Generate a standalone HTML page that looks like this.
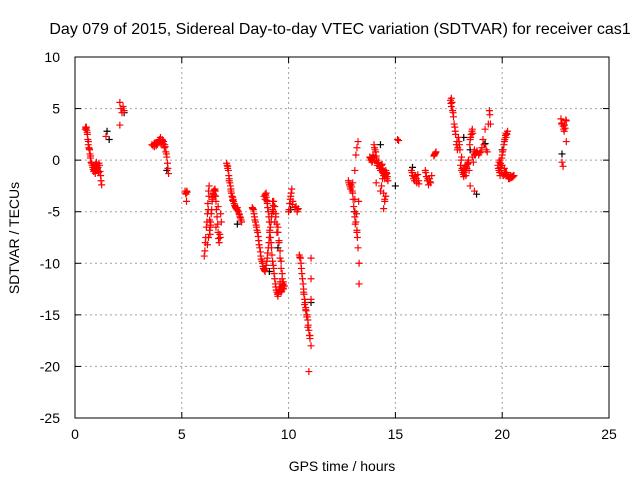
<!DOCTYPE html>
<html><head><meta charset="utf-8"><style>
html,body{margin:0;padding:0;background:#fff;}
svg{display:block;font-family:"Liberation Sans",sans-serif;}
</style></head><body>
<svg id="chart" width="640" height="480">
<text x="340" y="34" font-size="16" text-anchor="middle" fill="#000">Day 079 of 2015, Sidereal Day-to-day VTEC variation (SDTVAR) for receiver cas1</text>
<g id="grid"></g>
<g id="ticks"></g>
<g id="blackpts"></g>
<g id="redpts"></g>
<rect x="75" y="57" width="534" height="361" fill="none" stroke="#000" stroke-width="1"/>
<text x="342" y="471" font-size="14" text-anchor="middle">GPS time / hours</text>
<text transform="translate(19,238) rotate(-90)" font-size="14" text-anchor="middle">SDTVAR / TECUs</text>
</svg>
<script>
const xTicks=[0,5,10,15,20,25];
const yTicks=[10,5,0,-5,-10,-15,-20,-25];
const redHours=[0.5,0.52,0.55,0.58,0.6,0.62,0.65,0.68,0.7,0.72,0.75,0.8,0.85,0.9,0.95,1.0,1.05,1.1,1.15,1.2,1.22,1.25,
2.1,2.15,2.2,2.25,2.3,2.1,1.45,
3.6,3.7,3.8,3.9,4.0,4.05,4.1,4.2,4.25,4.3,4.33,4.35,4.38,
5.15,5.2,5.25,5.22,
6.05,6.1,6.15,6.2,6.22,6.25,6.28,6.3,6.32,6.35,6.4,6.45,6.5,6.55,6.6,6.65,6.7,6.75,6.8,6.85,6.7,6.6,
7.1,7.15,7.2,7.25,7.3,7.35,7.4,7.45,7.5,7.55,7.6,7.65,7.7,7.75,7.8,
8.3,8.35,8.4,8.45,8.5,8.55,8.6,8.65,8.7,8.75,8.8,8.85,8.9,8.95,9.0,9.05,9.1,9.15,9.2,9.25,9.3,
8.9,8.95,9.0,9.05,9.1,9.15,9.2,9.25,9.3,9.35,9.4,9.45,9.5,9.55,9.6,9.65,9.7,9.75,
9.25,9.3,9.35,9.4,9.45,9.5,9.55,9.6,9.65,9.7,9.75,
10.0,10.05,10.1,10.15,10.2,10.3,10.4,10.45,
10.5,10.55,10.6,10.65,10.7,10.75,10.8,10.85,10.9,10.95,11.0,11.05,11.05,11.05,11.05,11.0,10.95,
12.8,12.85,12.9,12.95,13.0,13.05,13.1,13.1,13.15,13.15,13.2,13.2,13.25,13.25,13.3,13.3,13.2,13.1,13.0,
13.8,13.85,13.9,13.95,14.0,14.05,14.1,14.15,14.2,14.25,14.3,14.35,14.4,14.45,14.5,14.55,14.6,14.65,14.3,14.45,14.5,14.55,14.1,
15.1,15.15,
15.75,15.8,15.85,15.9,15.95,16.0,16.05,16.1,16.4,16.45,16.5,16.55,16.6,16.65,16.7,16.8,16.85,16.9,
17.6,17.62,17.65,17.7,17.75,17.8,17.85,17.9,17.95,18.0,18.05,18.1,18.15,18.2,18.25,18.3,18.35,18.4,18.45,18.5,18.55,18.6,18.65,18.7,18.75,18.8,18.9,19.0,19.1,19.2,19.25,19.3,19.35,19.4,19.42,19.45,18.3,18.5,18.7,
19.8,19.85,19.9,19.95,20.0,20.05,20.1,20.15,20.2,20.25,19.9,20.0,20.1,20.2,20.3,20.35,20.4,20.45,20.5,20.55,20.1,20.15,
22.75,22.8,22.85,22.9,22.95,23.0,23.0,22.8,22.85,
0.48,0.53,0.57,0.63,0.67,0.73,0.78,0.83,0.88,0.92,0.97,1.02,1.07,1.12,1.17,0.95,1.0,1.08,
3.65,3.75,3.85,3.95,4.02,4.08,4.15,4.22,4.28,3.72,3.82,3.92,4.12,4.18,
5.18,5.23,6.08,6.12,6.18,6.24,6.27,6.33,6.38,6.42,6.48,6.52,6.58,6.62,6.68,6.72,6.78,6.82,6.42,6.47,6.52,6.57,6.35,6.3,6.25,6.2,
7.12,7.18,7.22,7.28,7.32,7.38,7.42,7.48,7.52,7.58,7.62,7.68,7.72,7.78,7.15,7.22,7.3,7.38,
8.32,8.38,8.42,8.48,8.52,8.58,8.62,8.68,8.72,8.78,8.82,8.88,8.92,8.98,9.02,9.08,9.12,9.18,9.22,9.28,8.85,8.9,8.95,9.0,
8.92,8.98,9.02,9.08,9.12,9.18,9.22,9.28,9.32,9.38,9.42,9.48,9.52,9.58,9.62,9.68,9.72,9.78,9.35,9.4,9.45,9.5,9.55,9.6,9.65,9.7,9.75,9.8,9.6,9.65,9.7,9.75,
10.02,10.08,10.12,10.18,10.35,10.42,10.52,10.58,10.62,10.68,10.72,10.78,10.82,10.88,10.92,10.98,10.7,10.75,10.8,10.85,10.9,
12.82,12.88,12.92,12.98,13.02,13.08,13.12,13.18,13.22,13.28,
13.82,13.88,13.92,13.98,14.02,14.08,14.12,14.18,14.22,14.28,14.32,14.38,14.42,14.48,14.52,14.58,14.62,13.9,14.0,14.1,14.2,14.3,14.4,14.5,14.6,14.15,14.25,14.35,14.45,14.55,14.35,14.4,14.45,14.5,
15.78,15.88,15.98,16.08,16.42,16.52,16.62,16.82,16.88,
17.58,17.62,17.68,17.72,17.78,17.82,17.88,17.92,17.98,18.02,18.08,18.12,18.18,18.22,18.28,18.32,18.38,18.42,18.48,18.52,18.58,18.62,18.68,18.72,18.78,18.82,18.95,19.05,19.15,18.1,18.2,18.3,18.4,18.6,18.7,
19.82,19.88,19.92,19.98,20.02,20.08,20.12,20.18,20.22,19.85,19.9,19.95,20.0,20.05,20.22,20.28,20.32,20.38,20.42,20.48,20.52,20.3,20.4,20.5,
22.78,22.88,22.92,22.98];
const redValues=[3.2,3.1,2.9,2.5,2.0,1.5,1.2,1.0,0.6,0.2,-0.2,-0.5,-0.9,-1.0,-0.6,-0.2,-0.8,-1.2,-0.5,-1.5,-2.0,-2.4,
5.6,5.0,4.6,5.2,4.8,3.4,2.3,
1.5,1.6,1.4,1.8,2.2,1.7,1.9,1.5,0.8,0.3,-0.3,-0.8,-1.3,
-3.0,-3.3,-3.1,-4.0,
-9.3,-8.0,-6.5,-5.2,-4.2,-3.0,-2.5,-5.8,-7.2,-6.3,-4.8,-3.6,-3.0,-2.8,-4.0,-5.5,-7.0,-8.0,-7.5,-6.0,-4.5,-6.5,
-0.3,-0.6,-1.5,-2.2,-2.8,-3.5,-3.8,-4.2,-4.5,-4.7,-4.6,-5.0,-5.3,-5.6,-6.0,
-4.6,-4.8,-5.5,-6.0,-6.5,-7.0,-7.8,-8.5,-9.3,-9.8,-10.3,-10.6,-10.8,-10.2,-9.5,-8.5,-7.5,-6.5,-5.5,-4.8,-4.0,
-3.3,-3.6,-4.2,-5.0,-6.0,-7.5,-8.5,-9.8,-10.5,-11.5,-12.3,-12.8,-13.2,-12.6,-12.0,-12.8,-12.4,-11.8,
-4.0,-5.0,-6.0,-5.5,-7.0,-6.5,-8.0,-9.5,-10.5,-11.5,-12.5,
-5.0,-4.2,-3.5,-2.8,-4.0,-4.6,-5.0,-4.7,
-9.2,-9.5,-10.5,-11.5,-12.5,-13.5,-14.3,-15.0,-15.5,-16.5,-17.3,-18.0,-9.5,-11.5,-13.5,-17.0,-20.5,
-2.0,-2.4,-2.8,-2.6,-3.2,-4.5,-5.5,-1.0,-6.0,0.5,-7.0,1.2,-8.5,1.8,-10.0,-12.0,-6.8,-3.8,-2.2,
0.3,0.0,-0.2,0.5,1.5,1.0,0.2,-0.5,-0.3,-0.8,-1.0,-0.5,-1.2,-1.5,-1.8,-1.0,-1.3,-2.0,-3.0,-4.7,-4.0,-3.5,-2.2,
2.0,1.9,
-1.0,-1.5,-1.8,-2.0,-1.5,-2.2,-1.4,-2.3,-1.0,-1.6,-2.0,-2.4,-1.8,-2.2,-1.5,0.4,0.6,0.8,
5.5,6.0,5.6,4.6,3.5,2.8,1.5,1.0,2.2,1.5,-0.5,0.3,-1.2,-1.6,-1.0,-0.5,-0.8,-0.2,-1.0,2.0,2.5,3.0,-0.2,1.0,0.5,0.8,0.5,0.8,2.0,3.0,1.0,0.8,3.5,4.8,4.4,3.5,-1.5,-2.5,-3.0,
-0.5,-1.0,-1.5,-0.5,0.5,1.0,1.8,2.4,2.6,2.8,0.0,-0.5,-0.8,-1.2,-1.6,-1.8,-1.5,-1.7,-1.6,-1.5,-1.4,-1.2,
4.0,3.6,3.3,2.8,3.1,3.8,1.8,-0.2,-0.6,
3.0,3.2,2.7,1.8,1.1,0.4,-0.3,-0.7,-1.1,-0.8,-0.4,-0.5,-1.0,-0.3,-1.1,-1.3,-0.9,-0.7,
1.4,1.7,1.5,2.0,1.6,2.0,1.8,1.3,0.6,1.3,1.6,1.9,1.6,1.2,
-3.2,-3.0,-8.8,-7.5,-6.0,-4.8,-3.5,-6.5,-5.2,-4.0,-3.3,-2.9,-3.5,-4.8,-6.2,-7.6,-7.2,-5.2,-3.8,-3.2,-3.4,-3.0,-6.0,-6.8,-7.5,-8.2,
-0.5,-1.0,-1.8,-2.5,-3.2,-3.6,-4.0,-4.4,-4.6,-4.8,-4.9,-5.2,-5.5,-5.8,-0.8,-2.0,-3.0,-3.9,
-4.7,-5.2,-5.8,-6.3,-6.8,-7.4,-8.2,-8.9,-9.6,-10.0,-10.5,-10.7,-10.5,-9.8,-9.0,-8.0,-7.0,-6.0,-5.2,-4.4,-3.5,-3.8,-3.2,-4.0,
-3.4,-3.9,-4.6,-5.5,-6.8,-8.0,-9.2,-10.2,-11.0,-12.0,-12.6,-13.0,-12.9,-12.3,-12.5,-12.7,-12.1,-12.2,-4.5,-5.2,-6.2,-7.0,-7.8,-8.8,-9.8,-11.0,-12.0,-12.2,-11.8,-12.6,-12.2,-12.4,
-4.8,-3.8,-3.2,-4.3,-4.5,-4.8,-9.4,-10.0,-11.0,-12.0,-13.0,-13.8,-14.6,-15.2,-16.0,-17.0,-12.8,-14.0,-14.5,-15.2,-16.2,
-2.2,-2.6,-2.4,-3.0,-3.8,-5.0,-6.2,-5.2,-7.5,-4.0,
0.2,0.1,-0.1,0.3,1.2,0.8,0.0,-0.3,-0.5,-0.6,-0.8,-0.4,-1.0,-1.3,-1.5,-1.2,-1.6,0.0,0.2,0.4,-0.2,-0.5,-0.9,-1.4,-1.8,-0.3,-0.6,-0.8,-1.1,-1.4,-2.5,-1.8,-3.2,-3.8,
-1.2,-1.6,-1.8,-2.0,-1.2,-1.8,-2.1,0.5,0.7,
5.8,5.2,4.8,4.2,3.2,2.5,1.8,1.2,1.8,1.0,0.0,-0.8,-1.4,-1.2,-0.8,-0.6,-0.4,0.0,1.5,2.2,2.8,2.6,0.8,0.6,0.7,0.9,0.7,1.2,1.5,-1.0,-0.9,-0.5,-0.3,0.3,0.5,
-0.8,-1.2,-0.3,0.2,0.8,1.5,2.0,2.2,2.5,-0.2,-0.7,-1.0,-1.3,-1.5,-1.4,-1.6,-1.7,-1.5,-1.6,-1.6,-1.5,-1.8,-1.7,-1.6,
3.5,3.0,3.4,3.9];
const blackHours=[1.5,1.6,2.3,4.3,7.6,9.1,9.5,10.1,11.05,13.1,13.9,14.3,15.0,15.8,18.2,18.5,18.8,19.2,20.0,22.8];
const blackValues=[2.8,2.0,4.6,-1.0,-6.2,-10.8,-8.5,-4.8,-13.8,-5.0,0.2,1.5,-2.5,-0.7,2.2,1.0,-3.3,1.6,1.0,0.6];

const L=75,R=609,T=57,B=418;
const X=h=>L+(h-0)/25*(R-L);
const Y=v=>T+(10-v)/35*(B-T);
const NS="http://www.w3.org/2000/svg";
function mk(tag,attrs,parent){const e=document.createElementNS(NS,tag);for(const k in attrs)e.setAttribute(k,attrs[k]);parent.appendChild(e);return e;}
const grid=document.getElementById('grid'),ticks=document.getElementById('ticks');
xTicks.forEach(t=>{const x=X(t);
 if(t>0&&t<25){const g=mk('line',{x1:x,x2:x,y1:T,y2:B,stroke:'#a0a0a0','stroke-dasharray':'2,3'},grid);
 
 }
 mk('line',{x1:x,x2:x,y1:B,y2:B-6,stroke:'#000'},ticks);mk('line',{x1:x,x2:x,y1:T,y2:T+6,stroke:'#000'},ticks);
 const l=mk('text',{x:x,y:B+21,'font-size':14,'text-anchor':'middle'},ticks);l.textContent=t;
 
 });
yTicks.forEach(t=>{const y=Y(t);
 if(t<10&&t>-25){const g=mk('line',{x1:L,x2:R,y1:y,y2:y,stroke:'#a0a0a0','stroke-dasharray':'2,3'},grid);
 
 }
 mk('line',{x1:L,x2:L+6,y1:y,y2:y,stroke:'#000'},ticks);mk('line',{x1:R,x2:R-6,y1:y,y2:y,stroke:'#000'},ticks);
 const l=mk('text',{x:L-15,y:y+5,'font-size':14,'text-anchor':'end'},ticks);l.textContent=t;
 
 });
function plus(h,v,color,parent,name){const x=X(h),y=Y(v);
 const p=mk('path',{d:`M${x-3.5},${y}h7M${x},${y-3.5}v7`,stroke:color,'stroke-width':1.2,fill:'none'},parent);
 
 }
blackHours.forEach((h,i)=>plus(h,blackValues[i],'#000',document.getElementById('blackpts'),'black-point'));
redHours.forEach((h,i)=>plus(h,redValues[i],'#ff0000',document.getElementById('redpts'),'red-point'));
</script>
</body></html>
